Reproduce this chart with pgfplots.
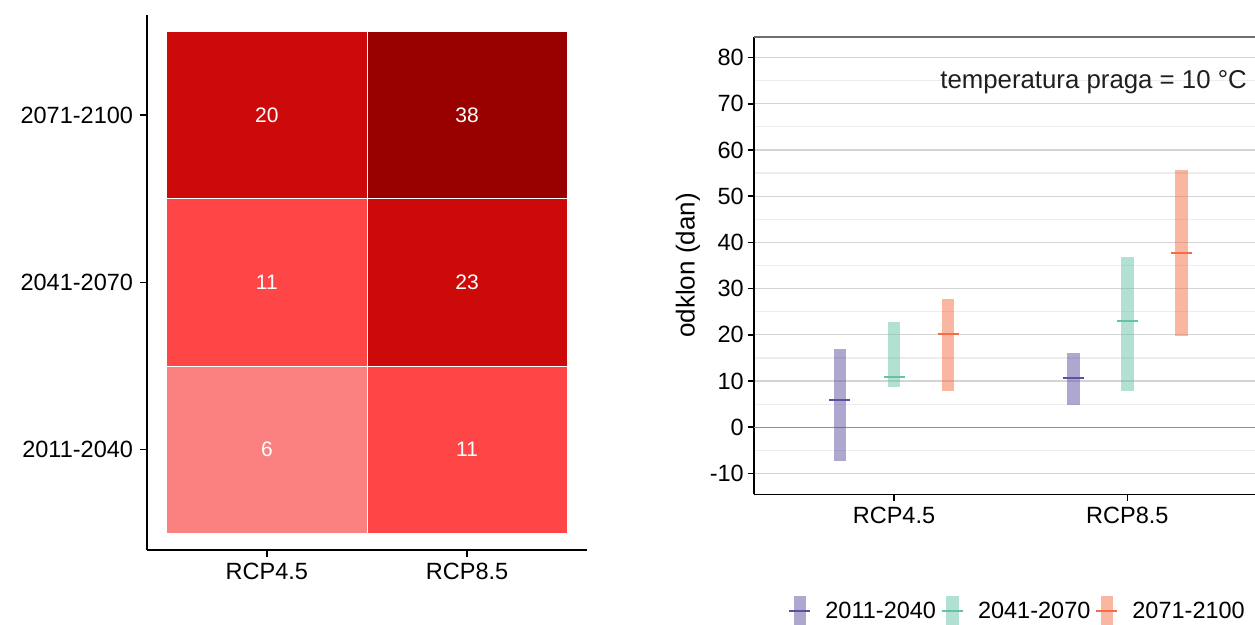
\documentclass[border=0pt]{standalone}
\usepackage{pgfplots}
\pgfplotsset{compat=1.18}
\usepackage{fontspec}
\setmainfont{Liberation Sans}
\definecolor{cA}{HTML}{FB8080}
\definecolor{cB}{HTML}{FF4646}
\definecolor{cC}{HTML}{CC0A0A}
\definecolor{cD}{HTML}{990000}
\definecolor{sp1}{HTML}{5E4FA2}
\definecolor{sp2}{HTML}{66C2A5}
\definecolor{sp3}{HTML}{F46D43}
\definecolor{gridmaj}{HTML}{D4D4D4}
\definecolor{gridmin}{HTML}{EDEDED}
\definecolor{zeroline}{HTML}{8F8F8F}
\definecolor{bordercol}{HTML}{6E6E6E}
\newcommand{\tickfont}{\fontsize{23.5}{28}\selectfont}
\newcommand{\cellfont}{\fontsize{21}{25}\selectfont}
\newcommand{\titlefont}{\fontsize{26}{30}\selectfont}
\newcommand{\annfont}{\fontsize{25.8}{30}\selectfont}
\begin{document}
\begin{tikzpicture}
\useasboundingbox (0,0) rectangle (1255pt,624pt);
% ---------------- left: heat map ----------------
\begin{axis}[
  at={(146.7pt,74pt)}, anchor=south west,
  scale only axis, width=440.6pt, height=535.3pt,
  xmin=0.4, xmax=2.6, ymin=0.4, ymax=3.6,
  axis x line*=bottom, axis y line*=left,
  axis line style={line width=1.6pt, -, black},
  xtick={1,2}, xticklabels={RCP4.5,RCP8.5},
  ytick={1,2,3}, yticklabels={2011-2040,2041-2070,2071-2100},
  tick align=outside, major tick length=6.5pt,
  tick style={line width=1.6pt, black},
  ticklabel style={font=\tickfont, text=black},
  xticklabel style={inner sep=0pt, yshift=-6pt},
  yticklabel style={inner sep=0pt, xshift=-7pt},
  clip=false,
]
\addplot[fill=cA, draw=white, line width=0.6pt] coordinates {(0.5,0.5) (1.5,0.5) (1.5,1.5) (0.5,1.5) (0.5,0.5)};
\addplot[fill=cB, draw=white, line width=0.6pt] coordinates {(1.5,0.5) (2.5,0.5) (2.5,1.5) (1.5,1.5) (1.5,0.5)};
\addplot[fill=cB, draw=white, line width=0.6pt] coordinates {(0.5,1.5) (1.5,1.5) (1.5,2.5) (0.5,2.5) (0.5,1.5)};
\addplot[fill=cC, draw=white, line width=0.6pt] coordinates {(1.5,1.5) (2.5,1.5) (2.5,2.5) (1.5,2.5) (1.5,1.5)};
\addplot[fill=cC, draw=white, line width=0.6pt] coordinates {(0.5,2.5) (1.5,2.5) (1.5,3.5) (0.5,3.5) (0.5,2.5)};
\addplot[fill=cD, draw=white, line width=0.6pt] coordinates {(1.5,2.5) (2.5,2.5) (2.5,3.5) (1.5,3.5) (1.5,2.5)};
\addplot[draw=none, mark=none, nodes near coords, point meta=explicit symbolic,
  every node near coord/.style={anchor=center, text=white, font=\cellfont, inner sep=0pt}]
  table[meta=lab] {
x y lab
1 1 6
2 1 11
1 2 11
2 2 23
1 3 20
2 3 38
};
\end{axis}
% ---------------- right: ranges ----------------
\begin{axis}[
  at={(754pt,129.7pt)}, anchor=south west,
  scale only axis, width=513.3pt, height=457.6pt,
  xmin=0.4, xmax=2.6, ymin=-14.5, ymax=84.5,
  axis x line*=bottom, axis y line*=left,
  axis line style={line width=1.6pt, -, black},
  xtick={1,2}, xticklabels={RCP4.5,RCP8.5},
  ytick={-10,0,10,20,30,40,50,60,70,80},
  yticklabels={-10,0,10,20,30,40,50,60,70,80},
  minor ytick={-5,5,15,25,35,45,55,65,75},
  ymajorgrids, yminorgrids,
  major grid style={color=gridmaj, line width=1.2pt},
  minor grid style={color=gridmin, line width=1.2pt},
  tick align=outside, major tick length=6.5pt, minor tick length=0pt,
  tick style={line width=1.6pt, black},
  ticklabel style={font=\tickfont, text=black},
  xticklabel style={inner sep=0pt, yshift=-6pt},
  yticklabel style={inner sep=0pt, xshift=-3.5pt},
  ylabel={odklon (dan)},
  every axis y label/.style={at={(rel axis cs:-0.1286,0.5)}, rotate=90, anchor=center, font=\titlefont},
  legend style={at={(rel axis cs:0.5116,-0.255)}, anchor=center, legend columns=3,
    draw=none, fill=none, font=\tickfont, inner sep=0pt, outer sep=0pt,
    nodes={inner sep=0pt},
    /tikz/every odd column/.append style={column sep=14pt},
    /tikz/every even column/.append style={column sep=5pt}},
  legend cell align=left,
  clip=false,
]
\draw[color=zeroline, line width=1.4pt] (axis cs:0.4,0) -- (axis cs:2.6,0);
\draw[color=bordercol, line width=2pt] (rel axis cs:0,1) -- (rel axis cs:1,1);
% 2011-2040
\addplot[sp1, line width=12.6pt, draw opacity=0.5, forget plot] coordinates {(0.7685,-7.3) (0.7685,16.9)};
\addplot[sp1, line width=12.6pt, draw opacity=0.5, forget plot] coordinates {(1.7685,4.8) (1.7685,16.1)};
\addplot[sp1, line width=2pt, forget plot] coordinates {(0.7235,5.9) (0.8135,5.9)};
\addplot[sp1, line width=2pt, forget plot] coordinates {(1.7235,10.7) (1.8135,10.7)};
% 2041-2070
\addplot[sp2, line width=12.6pt, draw opacity=0.5, forget plot] coordinates {(1,8.8) (1,22.7)};
\addplot[sp2, line width=12.6pt, draw opacity=0.5, forget plot] coordinates {(2,7.9) (2,36.9)};
\addplot[sp2, line width=2pt, forget plot] coordinates {(0.955,10.8) (1.045,10.8)};
\addplot[sp2, line width=2pt, forget plot] coordinates {(1.955,23.1) (2.045,23.1)};
% 2071-2100
\addplot[sp3, line width=12.6pt, draw opacity=0.5, forget plot] coordinates {(1.2315,7.85) (1.2315,27.7)};
\addplot[sp3, line width=12.6pt, draw opacity=0.5, forget plot] coordinates {(2.2315,19.8) (2.2315,55.7)};
\addplot[sp3, line width=2pt, forget plot] coordinates {(1.1865,20.25) (1.2765,20.25)};
\addplot[sp3, line width=2pt, forget plot] coordinates {(2.1865,37.6) (2.2765,37.6)};
\node[anchor=base east, font=\annfont, inner sep=0pt, text=black!88] at (axis cs:2.513,73.35) {temperatura praga = 10 °C};
\addlegendimage{legend image code/.code={
  \draw[sp1, line width=12.6pt, draw opacity=0.5] (10.5pt,-14.5pt) -- (10.5pt,14.5pt);
  \draw[sp1, line width=2pt] (0pt,0pt) -- (21pt,0pt);}}
\addlegendentry{2011-2040}
\addlegendimage{legend image code/.code={
  \draw[sp2, line width=12.6pt, draw opacity=0.5] (10.5pt,-14.5pt) -- (10.5pt,14.5pt);
  \draw[sp2, line width=2pt] (0pt,0pt) -- (21pt,0pt);}}
\addlegendentry{2041-2070}
\addlegendimage{legend image code/.code={
  \draw[sp3, line width=12.6pt, draw opacity=0.5] (10.5pt,-14.5pt) -- (10.5pt,14.5pt);
  \draw[sp3, line width=2pt] (0pt,0pt) -- (21pt,0pt);}}
\addlegendentry{2071-2100}
\end{axis}
\end{tikzpicture}
\end{document}
